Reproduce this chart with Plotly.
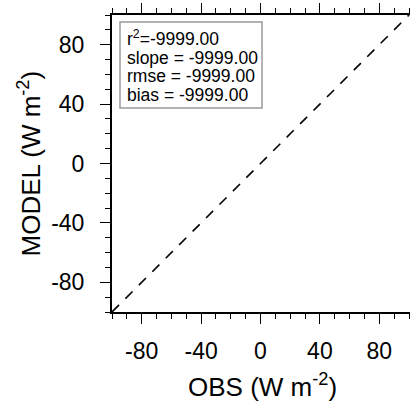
import plotly.graph_objects as go

# data
ref_line_x = [-100, 100]
ref_line_y = [-100, 100]
tick_vals = [-80, -40, 0, 40, 80]
tick_text = ["-80", "-40", "0", "40", "80"]
stats_labels = ["r<sup>2</sup>=", "slope = ", "rmse = ", "bias = "]
stats_values = [-9999.00, -9999.00, -9999.00, -9999.00]

FONT = "Liberation Sans, Arial, Helvetica, sans-serif"
W, H = 410, 401
L, R, T, B = 112, 0, 15, 89
plot_w = W - L - R
plot_h = H - T - B
px_per_unit = plot_h / 200.0
x_hi = -100 + plot_w / px_per_unit


def px_x(px):
    return (px - L) / plot_w


def px_y(py):
    return 1 - (py - T) / plot_h


fig = go.Figure()
fig.add_trace(go.Scatter(
    x=ref_line_x, y=ref_line_y, mode="lines",
    line=dict(color="black", width=1.6, dash="10px,9px"),
    hoverinfo="skip", showlegend=False,
))

axis_common = dict(
    showgrid=False, zeroline=False, showline=True, linecolor="black", linewidth=2,
    ticks="outside", ticklen=10, tickwidth=1.2, tickcolor="black",
    tickvals=tick_vals, ticktext=tick_text,
    tickfont=dict(family=FONT, size=23, color="black"),
    minor=dict(dtick=10, tick0=0, ticks="outside", ticklen=5, tickwidth=1, tickcolor="black"),
)

fig.update_layout(
    width=W, height=H,
    margin=dict(l=L, r=R, t=T, b=B, pad=0),
    paper_bgcolor="white", plot_bgcolor="white",
    xaxis=dict(range=[-100, x_hi], ticklabelstandoff=7, mirror="ticks", **axis_common),
    yaxis=dict(range=[-100, 100], ticklabelstandoff=11, mirror=False, **axis_common),
    showlegend=False,
)

# stats box
fig.add_shape(
    type="rect", xref="paper", yref="paper",
    x0=px_x(120), x1=px_x(262), y0=px_y(108), y1=px_y(22),
    line=dict(color="#9a9a9a", width=1.5), fillcolor="white", layer="above",
)
baselines = [46, 65, 83, 102]
for lab, val, bl in zip(stats_labels, stats_values, baselines):
    fig.add_annotation(
        xref="paper", yref="paper",
        x=px_x(126), y=px_y(bl + 4),
        xanchor="left", yanchor="bottom", align="left",
        text=f"{lab}{val:.2f}", showarrow=False,
        font=dict(family=FONT, size=17.5, color="black"),
        borderpad=0,
    )

fig.add_annotation(
    xref="paper", yref="paper",
    x=px_x(262), y=px_y(385),
    xanchor="center", yanchor="middle",
    text="OBS (W m<sup>-2</sup>)", showarrow=False,
    font=dict(family=FONT, size=26, color="black"),
)
fig.add_annotation(
    xref="paper", yref="paper",
    x=px_x(30), y=0.5,
    xanchor="center", yanchor="middle", textangle=-90,
    text="MODEL (W m<sup>-2</sup>)", showarrow=False,
    font=dict(family=FONT, size=26, color="black"),
)

fig.write_html("out.html")
